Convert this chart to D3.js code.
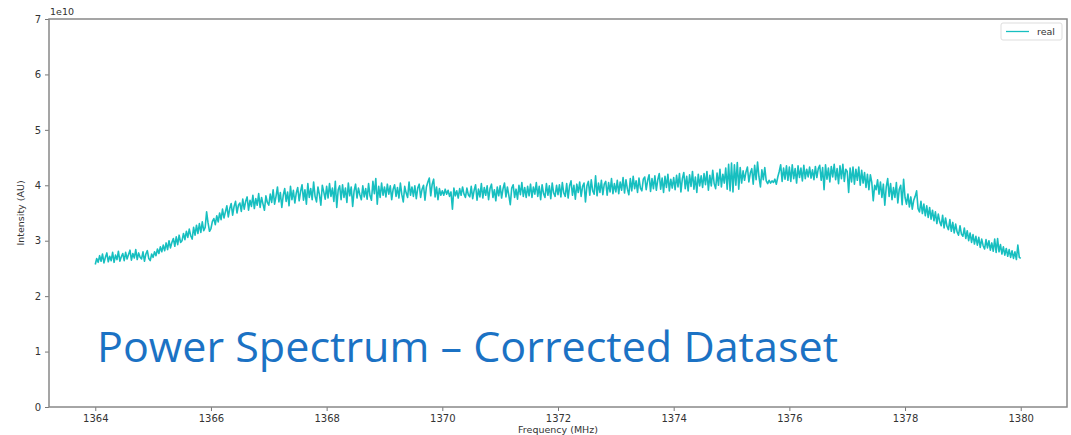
<!DOCTYPE html>
<html>
<head>
<meta charset="utf-8">
<script src="https://cdn.jsdelivr.net/npm/d3@7"></script>
<style>
  body { margin: 0; background: #fff; }
  svg text { font-family: "DejaVu Sans", sans-serif; }
</style>
</head>
<body>
<div id="chart"></div>
<script>

// intensity readings, units of 1e10, one channel every 0.025 MHz from 1364 MHz
var intensity = [
  2.57, 2.68, 2.61, 2.73, 2.63, 2.76, 2.60, 2.70, 2.78, 2.62, 2.72, 2.64, 2.79, 2.61, 2.74, 2.66, 2.81, 2.63, 2.71, 2.77,
  2.64, 2.79, 2.67, 2.75, 2.83, 2.65, 2.77, 2.69, 2.84, 2.66, 2.78, 2.70, 2.67, 2.80, 2.63, 2.76, 2.82, 2.68, 2.64, 2.76,
  2.70, 2.80, 2.73, 2.85, 2.77, 2.89, 2.80, 2.92, 2.82, 2.96, 2.84, 3.00, 2.87, 2.97, 3.04, 2.90, 3.07, 2.93, 3.10, 2.97,
  3.00, 3.13, 3.02, 3.17, 3.06, 3.21, 3.09, 3.03, 3.24, 3.10, 3.28, 3.13, 3.31, 3.15, 3.34, 3.18, 3.24, 3.52, 3.32, 3.17,
  3.22, 3.35, 3.40, 3.29, 3.45, 3.34, 3.50, 3.38, 3.57, 3.41, 3.52, 3.63, 3.43, 3.58, 3.67, 3.46, 3.62, 3.71, 3.50, 3.64,
  3.68, 3.53, 3.75, 3.57, 3.71, 3.79, 3.55, 3.73, 3.62, 3.82, 3.58, 3.76, 3.64, 3.85, 3.60, 3.78, 3.66, 3.55, 3.81, 3.69,
  3.64, 3.84, 3.69, 3.92, 3.66, 3.80, 3.97, 3.70, 3.87, 3.60, 3.82, 3.94, 3.71, 3.88, 3.63, 3.98, 3.74, 3.91, 3.68, 3.86,
  3.96, 3.72, 3.89, 4.01, 3.73, 3.92, 3.66, 4.03, 3.78, 3.94, 3.74, 4.06, 3.80, 3.70, 3.97, 3.83, 3.64, 4.00, 3.88, 3.75,
  3.98, 3.77, 4.03, 3.80, 3.95, 3.71, 4.07, 3.60, 3.92, 3.99, 3.74, 4.01, 3.78, 3.95, 3.69, 4.04, 3.81, 3.97, 3.62, 3.90,
  4.02, 3.77, 3.95, 3.83, 3.74, 3.99, 3.79, 3.94, 3.75, 4.03, 3.81, 3.73, 4.07, 3.85, 4.12, 3.66, 3.98, 3.78, 4.04, 3.82,
  3.97, 3.79, 4.02, 3.84, 3.99, 3.74, 3.93, 4.01, 3.80, 3.96, 3.77, 4.04, 3.83, 3.70, 3.98, 3.86, 3.78, 4.06, 3.82, 3.97,
  3.80, 3.99, 3.76, 3.95, 4.02, 3.78, 3.93, 4.00, 3.73, 3.97, 4.06, 4.13, 3.81, 4.02, 4.11, 3.79, 3.97, 3.74, 3.94, 3.82,
  3.90, 3.82, 3.93, 3.84, 3.91, 3.80, 3.88, 3.57, 3.95, 3.81, 3.90, 3.77, 3.94, 3.82, 3.97, 3.84, 3.78, 3.95, 3.83, 3.79,
  3.98, 3.76, 3.91, 4.01, 3.73, 3.93, 3.79, 4.03, 3.77, 3.96, 3.82, 3.99, 3.74, 3.94, 4.02, 3.78, 3.92, 3.72, 3.97, 3.81,
  3.99, 3.77, 3.94, 4.04, 3.79, 3.97, 3.82, 3.65, 3.95, 4.01, 3.78, 3.93, 3.75, 4.00, 3.83, 4.05, 3.80, 3.96, 3.78, 3.98,
  3.81, 4.02, 3.78, 3.97, 3.84, 4.05, 3.80, 3.98, 3.74, 4.01, 3.85, 3.78, 4.03, 3.82, 3.99, 3.76, 4.04, 3.86, 3.80, 4.00,
  3.83, 4.01, 3.79, 4.05, 3.86, 3.80, 4.03, 3.77, 3.99, 4.08, 3.82, 4.00, 3.75, 4.02, 3.87, 4.06, 3.80, 3.98, 4.04, 3.70,
  3.99, 4.07, 3.82, 4.10, 3.90, 3.84, 4.17, 3.81, 4.04, 3.87, 4.09, 3.83, 4.02, 4.07, 3.82, 4.05, 3.88, 4.12, 3.85, 4.03,
  3.88, 4.09, 3.85, 4.06, 3.91, 4.14, 3.86, 4.10, 3.93, 3.83, 4.12, 3.90, 4.16, 3.94, 4.08, 3.87, 4.13, 3.95, 3.90, 4.11,
  4.15, 3.92, 4.09, 4.19, 3.89, 4.12, 3.94, 4.17, 3.91, 4.10, 4.21, 3.93, 4.13, 3.87, 4.16, 3.96, 4.20, 3.90, 4.11, 3.95,
  4.14, 3.92, 4.18, 3.97, 4.21, 3.88, 4.12, 4.23, 3.94, 4.16, 3.90, 4.19, 3.98, 4.25, 3.93, 4.15, 3.87, 4.20, 3.99, 4.17,
  3.96, 4.21, 4.01, 4.25, 3.91, 4.18, 3.99, 4.27, 4.03, 3.94, 4.22, 4.00, 4.29, 3.97, 4.20, 4.04, 4.31, 3.93, 4.38, 3.90,
  4.40, 3.88, 4.37, 4.00, 4.41, 3.93, 4.32, 4.04, 4.26, 4.09, 4.24, 4.33, 4.06, 4.22, 4.30, 4.02, 4.36, 4.10, 4.42, 4.15,
  3.97, 4.28, 4.10, 4.32, 4.08, 4.03, 4.09, 4.04, 4.08, 4.05, 4.11, 4.02, 4.15, 4.25, 4.37, 4.07, 4.31, 4.11, 4.35, 4.09,
  4.33, 4.07, 4.37, 4.12, 4.30, 4.04, 4.35, 4.14, 4.31, 4.08, 4.36, 4.12, 4.29, 4.15, 4.33, 4.13, 4.28, 4.10, 4.34, 4.14,
  4.30, 4.36, 4.09, 4.32, 3.92, 4.37, 4.11, 4.31, 4.06, 4.34, 4.15, 4.38, 4.10, 4.30, 4.03, 4.35, 4.12, 4.38, 4.07, 4.29,
  4.25, 3.87, 4.31, 4.06, 4.33, 4.02, 4.29, 4.09, 4.33, 4.00, 4.27, 4.04, 4.23, 3.96, 4.20, 3.92, 4.19, 4.05, 3.72, 4.00,
  3.92, 4.10, 3.84, 4.06, 3.78, 4.02, 3.64, 3.97, 4.12, 3.80, 4.03, 3.74, 3.96, 3.78, 4.05, 3.68, 3.93, 4.00, 3.65, 4.11,
  3.78, 3.66, 3.84, 3.61, 3.79, 3.57, 3.73, 3.80, 3.90, 3.58, 3.52, 3.71, 3.49, 3.66, 3.45, 3.63, 3.42, 3.60, 3.39, 3.55,
  3.36, 3.52, 3.31, 3.48, 3.34, 3.27, 3.46, 3.23, 3.41, 3.26, 3.20, 3.38, 3.17, 3.33, 3.14, 3.30, 3.16, 3.10, 3.27, 3.12,
  3.08, 3.23, 3.04, 3.18, 3.00, 3.14, 2.97, 3.11, 2.94, 3.08, 2.92, 3.06, 2.88, 3.03, 2.91, 2.85, 3.02, 2.87, 3.00, 2.83,
  2.96, 2.81, 3.03, 2.79, 3.04, 2.80, 2.93, 2.76, 2.89, 2.74, 2.86, 2.72, 2.84, 2.70, 2.82, 2.68, 2.80, 2.66, 2.92, 2.70,
  2.68
];
var freqStart = 1364;
var freqStep = 0.025;

var xTicks = [1364, 1366, 1368, 1370, 1372, 1374, 1376, 1378, 1380];
var yTicks = [0, 1, 2, 3, 4, 5, 6, 7];

var seriesName = 'real';
var titleText = 'Power Spectrum \u2013 Corrected Dataset';

var W = 1071, H = 435;
var margin = {left: 49, right: 4, top: 19, bottom: 28};
var iw = W - margin.left - margin.right;
var ih = H - margin.top - margin.bottom;

var points = intensity.map(function(v, i) {
    return [freqStart + i * freqStep, v];
});

var xScale = d3.scaleLinear()
    .domain([1363.2, 1380.8])
    .range([0, iw]);

var yScale = d3.scaleLinear()
    .domain([0, 7])
    .range([ih, 0]);

var svg = d3.select('#chart')
    .append('svg')
    .attr('width', W)
    .attr('height', H);

var g = svg.append('g')
    .attr('transform', 'translate(' + margin.left + ',' + margin.top + ')');

var line = d3.line()
    .x(function(d) { return xScale(d[0]); })
    .y(function(d) { return yScale(d[1]); });

g.append('path')
    .datum(points)
    .attr('fill', 'none')
    .attr('stroke', '#17bfc0')
    .attr('stroke-width', 1.6)
    .attr('stroke-linejoin', 'round')
    .attr('d', line);

var xAxis = d3.axisBottom(xScale).tickValues(xTicks).tickSize(4).tickPadding(4)
    .tickFormat(d3.format('d'));
var yAxis = d3.axisLeft(yScale).tickValues(yTicks).tickSize(4).tickPadding(4)
    .tickFormat(d3.format('d'));

var gx = g.append('g')
    .attr('transform', 'translate(0,' + ih + ')')
    .call(xAxis);
var gy = g.append('g')
    .call(yAxis);

[gx, gy].forEach(function(a) {
    a.select('.domain').remove();
    a.selectAll('line').attr('stroke', '#777');
    a.selectAll('text').attr('fill', '#333').attr('font-size', 10)
        .style('font-family', '"DejaVu Sans", sans-serif');
});

// frame
g.append('rect')
    .attr('x', 0)
    .attr('y', 0)
    .attr('width', iw)
    .attr('height', ih)
    .attr('fill', 'none')
    .attr('stroke', '#888')
    .attr('stroke-width', 1.5);

// offset label
g.append('text')
    .attr('x', 1)
    .attr('y', -4)
    .attr('font-size', 9.5)
    .attr('fill', '#333')
    .text('1e10');

svg.append('text')
    .attr('text-anchor', 'middle')
    .attr('font-size', 9.5)
    .attr('fill', '#333')
    .attr('transform', 'translate(24,' + (margin.top + ih / 2) + ') rotate(-90)')
    .text('Intensity (AU)');

svg.append('text')
    .attr('text-anchor', 'middle')
    .attr('font-size', 9.5)
    .attr('fill', '#333')
    .attr('x', margin.left + iw / 2)
    .attr('y', 433)
    .text('Frequency (MHz)');

// legend
var lg = svg.append('g').attr('transform', 'translate(1001,23)');
lg.append('rect')
    .attr('width', 61)
    .attr('height', 17)
    .attr('rx', 2)
    .attr('fill', '#fff')
    .attr('stroke', '#ddd');
lg.append('line')
    .attr('x1', 5).attr('x2', 28)
    .attr('y1', 8.5).attr('y2', 8.5)
    .attr('stroke', '#17bfc0')
    .attr('stroke-width', 1.3);
lg.append('text')
    .attr('x', 36)
    .attr('y', 12)
    .attr('font-size', 9.5)
    .attr('fill', '#333')
    .text(seriesName);

// overlaid slide title
svg.append('text')
    .attr('x', 97)
    .attr('y', 362)
    .attr('font-size', 42)
    .attr('fill', '#1b72c4')
    .attr('textLength', 741)
    .attr('lengthAdjust', 'spacingAndGlyphs')
    .style('font-family', '"Open Sans", sans-serif')
    .text(titleText);

</script>
</body>
</html>
